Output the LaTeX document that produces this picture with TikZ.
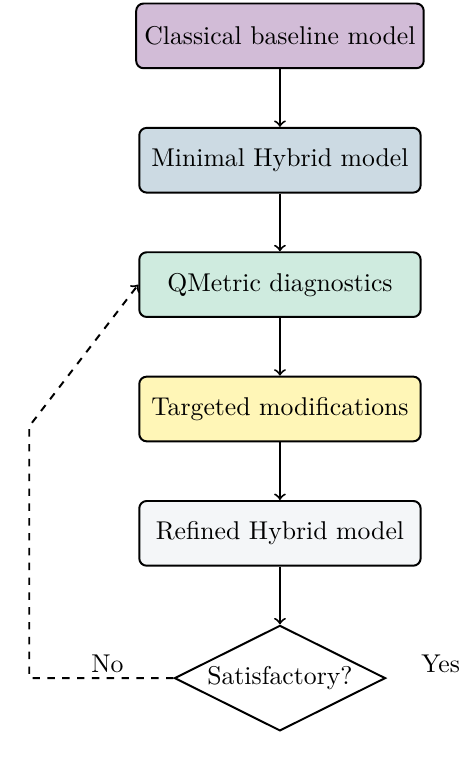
\documentclass[tikz,border=0pt]{standalone}
\usetikzlibrary{positioning,shapes.geometric}
\definecolor{baseclr}{HTML}{D2BCD7}
\definecolor{minclr}{HTML}{CCDAE3}
\definecolor{diagclr}{HTML}{CFEBDF}
\definecolor{modclr}{HTML}{FFF6B7}
\definecolor{refclr}{HTML}{F4F6F8}
\begin{document}
\begin{tikzpicture}
[every node/.style = {font=\fontsize{10.4pt}{12.5pt}\selectfont},
 stage/.style = {draw, thick, rounded corners=3pt, minimum width=4cm, minimum height=0.92cm},
 decision/.style = {draw, thick, diamond, aspect=2, inner sep=0pt, minimum width=3cm, minimum height=1.5cm},
 flow/.style = {->, thick},
 node distance = 0.82cm]
\useasboundingbox (-3.98,0.51) rectangle (2.56,-10.38);

\node [stage, fill=baseclr] (base) at (0,0) {Classical baseline model};
\node [stage, fill=minclr, below=of base] (minimal) {Minimal Hybrid model};
\node [stage, fill=diagclr, below=of minimal] (diag) {QMetric diagnostics};
\node [stage, fill=modclr, below=of diag] (mods) {Targeted modifications};
\node [stage, fill=refclr, below=of mods] (refined) {Refined Hybrid model};
\node [decision, below=of refined] (check) {Satisfactory?};

\coordinate [left=2.05cm of check.west] (loop1);
\coordinate (loop2) at ([yshift=3.58cm]loop1);
\node (no) at ([xshift=-0.94cm, yshift=0.2cm]check.west) {No};
\node (yes) at ([xshift=0.77cm, yshift=0.2cm]check.east) {Yes};

\draw [flow] (base) -- (minimal);
\draw [flow] (minimal) -- (diag);
\draw [flow] (diag) -- (mods);
\draw [flow] (mods) -- (refined);
\draw [flow] (refined) -- (check);
\draw [flow, dashed] (check.west) -- (loop1) -- (loop2) -- (diag.west);
\end{tikzpicture}
\end{document}
